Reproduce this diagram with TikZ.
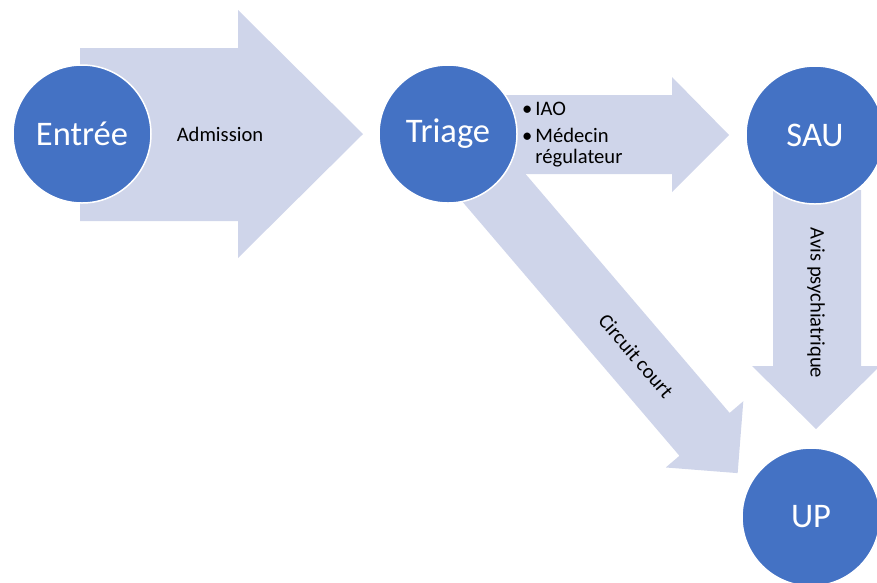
\documentclass[tikz,border=0pt]{standalone}
\usepackage{fontspec}
\setmainfont{Carlito}
\definecolor{discblue}{HTML}{4472C4}
\definecolor{flowfill}{HTML}{CFD5EA}
\begin{document}
\begin{tikzpicture}[x=1pt,y=-1pt,
  disc/.style={circle,fill=discblue,draw=white,line width=1.5pt,minimum size=138pt,inner sep=0pt,text=white,font=\fontsize{34.5}{38}\selectfont},
  flow/.style={fill=flowfill,draw=none},
  lbl/.style={inner sep=0pt,text=black,font=\fontsize{20.6}{21.5}\selectfont}]
\useasboundingbox (0,0) rectangle (877,582);
\clip (0,0) rectangle (877,582);
% block arrows
\fill[flow] (80,48) -- (238,48) -- (238,10) -- (363,134) -- (238,258) -- (238,221) -- (80,221) -- cycle;
\fill[flow] (505,95) -- (672,95) -- (672,77) -- (729,135) -- (672,192) -- (672,174) -- (505,174) -- cycle;
\fill[flow] (773,190) -- (773,366) -- (752,366) -- (816,429) -- (880,366) -- (861,366) -- (861,190) -- cycle;
\begin{scope}[shift={(448,134)},rotate=-49.5]
\fill[flow] (0,-33) -- (395,-33) -- (395,-51) -- (446,0) -- (395,51) -- (395,33) -- (0,33) -- cycle;
\end{scope}
% discs
\node[disc] (entree) at (82,134) {Entrée};
\node[disc] (triage) at (448,134) {Triage};
\node[disc] (sau) at (815,135) {SAU};
\node[disc] (up) at (811,517) {UP};
% labels
\node[lbl] (admission) at (220,134) {Admission};
\node[lbl,anchor=base west] (bullets) at (522,115.5) {\fontsize{20.6}{21.5}\selectfont\begin{tabular}[t]{@{}l@{\hspace{3pt}}l@{}}• & IAO\\[5pt] • & Médecin\\ & régulateur\end{tabular}};
\node[lbl,rotate=-49.5] (circuit) at (636,356) {Circuit court};
\node[lbl,rotate=-90] (avis) at (816,303) {Avis psychiatrique};
\end{tikzpicture}
\end{document}
